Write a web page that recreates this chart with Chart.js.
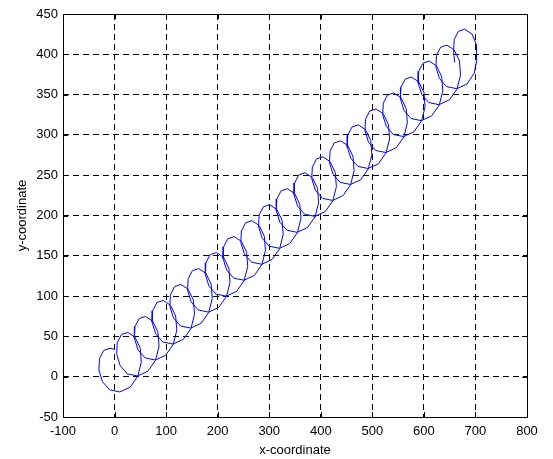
<!DOCTYPE html>
<html>
<head>
<meta charset="utf-8">
<script src="https://cdn.jsdelivr.net/npm/chart.js@4.4.1/dist/chart.umd.min.js"></script>
<style>
  body { margin: 0; background: #fff; }
  canvas { display: block; }
</style>
</head>
<body>
<canvas id="myChart" width="553" height="459"></canvas>
<script>
// trajectory, one loop per row (start point first)
const xCoord = [
  1.0,
  -8.9, -21.0, -29.2, -30.3, -23.4, -9.6, 10.3, 30.2, 45.0, 51.9, 49.7, 39.6,
  25.5, 13.4, 5.2, 4.1, 11.0, 24.8, 44.7, 64.6, 79.4, 86.3, 84.1, 74.0,
  59.9, 47.8, 39.6, 38.5, 45.4, 59.2, 79.1, 99.0, 113.8, 120.7, 118.5, 108.4,
  94.3, 82.2, 74.0, 72.9, 79.8, 93.6, 113.5, 133.4, 148.2, 155.1, 152.9, 142.8,
  128.7, 116.6, 108.4, 107.3, 114.2, 128.0, 147.9, 167.8, 182.6, 189.5, 187.3, 177.2,
  163.1, 151.0, 142.8, 141.7, 148.6, 162.4, 182.3, 202.2, 217.0, 223.9, 221.7, 211.6,
  197.5, 185.4, 177.2, 176.1, 183.0, 196.8, 216.7, 236.6, 251.4, 258.3, 256.1, 246.0,
  231.9, 219.8, 211.6, 210.5, 217.4, 231.2, 251.1, 271.0, 285.8, 292.7, 290.5, 280.4,
  266.3, 254.2, 246.0, 244.9, 251.8, 265.6, 285.5, 305.4, 320.2, 327.1, 324.9, 314.8,
  300.7, 288.6, 280.4, 279.3, 286.2, 300.0, 319.9, 339.8, 354.6, 361.5, 359.3, 349.2,
  335.1, 323.0, 314.8, 313.7, 320.6, 334.4, 354.3, 374.2, 389.0, 395.9, 393.7, 383.6,
  369.5, 357.4, 349.2, 348.1, 355.0, 368.8, 388.7, 408.6, 423.4, 430.3, 428.1, 418.0,
  403.9, 391.8, 383.6, 382.5, 389.4, 403.2, 423.1, 443.0, 457.8, 464.7, 462.5, 452.4,
  438.3, 426.2, 418.0, 416.9, 423.8, 437.6, 457.5, 477.4, 492.2, 499.1, 496.9, 486.8,
  472.7, 460.6, 452.4, 451.3, 458.2, 472.0, 491.9, 511.8, 526.6, 533.5, 531.3, 521.2,
  507.1, 495.0, 486.8, 485.7, 492.6, 506.4, 526.3, 546.2, 561.0, 567.9, 565.7, 555.6,
  541.5, 529.4, 521.2, 520.1, 527.0, 540.8, 560.7, 580.6, 595.4, 602.3, 600.1, 590.0,
  575.9, 563.8, 555.6, 554.5, 561.4, 575.2, 595.1, 615.0, 629.8, 636.7, 634.5, 624.4,
  610.3, 598.2, 590.0, 588.9, 595.8, 609.6, 629.5, 649.4, 664.2, 671.1, 668.9, 658.8,
  644.7, 632.6, 624.4, 623.3, 630.2, 644.0, 663.9, 683.8, 697.6, 703.0, 702.0, 693.2,
  679.1, 667.0, 658.8, 657.7, 659.5
];
const yCoord = [
  34.0,
  35.2, 32.6, 22.5, 8.1, -6.2, -16.3, -18.9, -13.0, 0.4, 18.0, 35.7, 49.1,
  55.0, 52.4, 42.3, 27.9, 13.6, 3.5, 0.9, 6.8, 20.2, 37.8, 55.5, 68.9,
  74.8, 72.2, 62.1, 47.7, 33.4, 23.3, 20.7, 26.6, 40.0, 57.6, 75.3, 88.7,
  94.6, 92.0, 81.9, 67.5, 53.2, 43.1, 40.5, 46.4, 59.8, 77.4, 95.1, 108.5,
  114.4, 111.8, 101.7, 87.3, 73.0, 62.9, 60.3, 66.2, 79.6, 97.2, 114.9, 128.3,
  134.2, 131.6, 121.5, 107.1, 92.8, 82.7, 80.1, 86.0, 99.4, 117.0, 134.7, 148.1,
  154.0, 151.4, 141.3, 126.9, 112.6, 102.5, 99.9, 105.8, 119.2, 136.8, 154.5, 167.9,
  173.8, 171.2, 161.1, 146.7, 132.4, 122.3, 119.7, 125.6, 139.0, 156.6, 174.3, 187.7,
  193.6, 191.0, 180.9, 166.5, 152.2, 142.1, 139.5, 145.4, 158.8, 176.4, 194.1, 207.5,
  213.4, 210.8, 200.7, 186.3, 172.0, 161.9, 159.3, 165.2, 178.6, 196.2, 213.9, 227.3,
  233.2, 230.6, 220.5, 206.1, 191.8, 181.7, 179.1, 185.0, 198.4, 216.0, 233.7, 247.1,
  253.0, 250.4, 240.3, 225.9, 211.6, 201.5, 198.9, 204.8, 218.2, 235.8, 253.5, 266.9,
  272.8, 270.2, 260.1, 245.7, 231.4, 221.3, 218.7, 224.6, 238.0, 255.6, 273.3, 286.7,
  292.6, 290.0, 279.9, 265.5, 251.2, 241.1, 238.5, 244.4, 257.8, 275.4, 293.1, 306.5,
  312.4, 309.8, 299.7, 285.3, 271.0, 260.9, 258.3, 264.2, 277.6, 295.2, 312.9, 326.3,
  332.2, 329.6, 319.5, 305.1, 290.8, 280.7, 278.1, 284.0, 297.4, 315.0, 332.7, 346.1,
  352.0, 349.4, 339.3, 324.9, 310.6, 300.5, 297.9, 303.8, 317.2, 334.8, 352.5, 365.9,
  371.8, 369.2, 359.1, 344.7, 330.4, 320.3, 317.7, 323.6, 337.0, 354.6, 372.3, 385.7,
  391.6, 389.0, 378.9, 364.5, 350.2, 340.1, 337.5, 343.4, 356.8, 374.4, 392.1, 405.5,
  411.4, 408.8, 398.7, 384.3, 370.0, 359.9, 357.3, 363.2, 376.6, 394.2, 411.9, 425.3,
  431.2, 428.6, 418.5, 404.1, 389.8
];

const xTicks = [-100, 0, 100, 200, 300, 400, 500, 600, 700, 800];
const yTicks = [-50, 0, 50, 100, 150, 200, 250, 300, 350, 400, 450];

let points = xCoord.map(function (x, i) { return { x: x, y: yCoord[i] }; });

// box round the plot plus small inward tick marks, like the original
const boxPlugin = {
  id: 'box',
  afterDraw(chart) {
    const c = chart.ctx;
    const a = chart.chartArea;
    const sx = chart.scales.x, sy = chart.scales.y;
    c.save();
    c.strokeStyle = '#000';
    c.lineWidth = 1;
    c.setLineDash([]);
    c.strokeRect(a.left + 0.5, a.top + 0.5, a.right - a.left, a.bottom - a.top);
    c.beginPath();
    xTicks.forEach(function (v) {
      const px = Math.round(sx.getPixelForValue(v)) + 0.5;
      c.moveTo(px, a.bottom); c.lineTo(px, a.bottom - 5);
      c.moveTo(px, a.top); c.lineTo(px, a.top + 5);
    });
    yTicks.forEach(function (v) {
      const py = Math.round(sy.getPixelForValue(v)) + 0.5;
      c.moveTo(a.left, py); c.lineTo(a.left + 5, py);
      c.moveTo(a.right, py); c.lineTo(a.right - 5, py);
    });
    c.stroke();
    c.restore();
  }
};

const font = { family: 'Liberation Sans, Arial, sans-serif', size: 13 };

let ctx = document.getElementById('myChart');
var myChart = new Chart(ctx, {
  type: 'scatter',
  data: {
    datasets: [{
      data: points,
      showLine: true,
      borderColor: '#0000ff',
      borderWidth: 1,
      pointRadius: 0,
      tension: 0,
      fill: false
    }]
  },
  options: {
    responsive: false,
    animation: false,
    devicePixelRatio: 1,
    layout: { padding: { left: 0, top: 14, right: 26, bottom: 0 } },
    plugins: { legend: { display: false }, tooltip: { enabled: false } },
    scales: {
      x: {
        type: 'linear',
        min: -100,
        max: 800,
        afterBuildTicks: function (s) { s.ticks = xTicks.map(function (v) { return { value: v }; }); },
        afterFit: function (s) { s.height = 42; },
        ticks: { color: '#000', font: font, padding: 7, maxRotation: 0 },
        grid: { color: '#000', lineWidth: 1, drawTicks: false },
        border: { display: false, dash: [6, 4] },
        title: { display: true, text: 'x-coordinate', color: '#000', font: font, padding: { top: 0, bottom: 1 } }
      },
      y: {
        type: 'linear',
        min: -50,
        max: 450,
        afterBuildTicks: function (s) { s.ticks = yTicks.map(function (v) { return { value: v }; }); },
        afterFit: function (s) { s.width = 63; },
        ticks: { color: '#000', font: font, padding: 5 },
        grid: { color: '#000', lineWidth: 1, drawTicks: false },
        border: { display: false, dash: [6, 4] },
        title: { display: true, text: 'y-coordinate', color: '#000', font: font, padding: { top: 15, bottom: 0 } }
      }
    }
  },
  plugins: [boxPlugin]
});
</script>
</body>
</html>
